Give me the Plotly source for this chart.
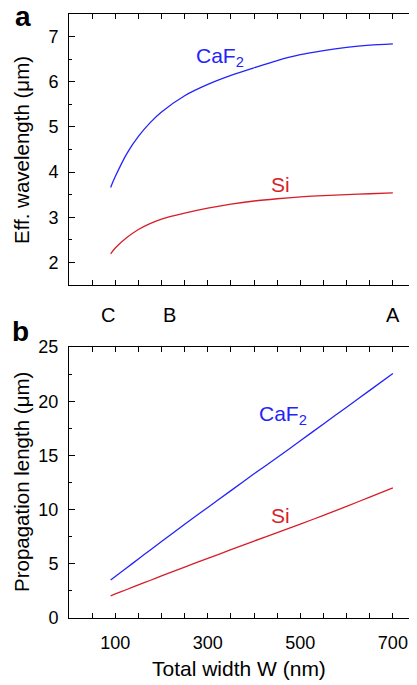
import plotly.graph_objects as go

# ---------------- data ----------------
width_nm = [90, 100, 125, 150, 175, 200, 250, 300, 350, 400, 450, 500, 550, 600, 650, 700]
caf2_eff_wl = [3.66, 3.90, 4.41, 4.79, 5.09, 5.33, 5.69, 5.94, 6.14, 6.31, 6.47, 6.60, 6.69, 6.76, 6.81, 6.84]
si_eff_wl = [2.19, 2.32, 2.55, 2.73, 2.86, 2.96, 3.09, 3.20, 3.29, 3.36, 3.41, 3.45, 3.48, 3.50, 3.52, 3.54]
caf2_prop = [3.5, 3.82, 4.63, 5.45, 6.25, 7.05, 8.65, 10.2, 11.75, 13.3, 14.8, 16.35, 17.9, 19.45, 21.0, 22.55]
si_prop = [2.05, 2.22, 2.63, 3.05, 3.46, 3.88, 4.7, 5.5, 6.3, 7.1, 7.88, 8.66, 9.47, 10.3, 11.15, 12.0]

point_labels = ["C", "B", "A"]
point_widths = [85, 218, 700]

BLUE = "rgb(35,35,250)"
RED = "rgb(215,30,40)"
FONT = "Liberation Sans, Arial, Helvetica, sans-serif"

# the page body adds an 8px offset; size the figure so the visible window matches
OFF = 8
W, H = 417 - OFF, 685 - OFF
ML, MR, MT, MB = 69 - OFF, 1, 14 - OFF, 67
PW = W - ML - MR
PH = H - MT - MB


def px_x(px):
    # px: pixel position in the 417x685 window
    return (px - OFF - ML) / PW


def px_y(py):
    return (H - MB - (py - OFF)) / PH


fig = go.Figure()
fig.add_trace(go.Scatter(x=width_nm, y=caf2_eff_wl, mode="lines",
                         line=dict(color=BLUE, width=1.3, shape="spline", smoothing=0.8),
                         xaxis="x", yaxis="y", showlegend=False))
fig.add_trace(go.Scatter(x=width_nm, y=si_eff_wl, mode="lines",
                         line=dict(color=RED, width=1.3, shape="spline", smoothing=0.8),
                         xaxis="x", yaxis="y", showlegend=False))
fig.add_trace(go.Scatter(x=width_nm, y=caf2_prop, mode="lines",
                         line=dict(color=BLUE, width=1.3, shape="spline", smoothing=0.6),
                         xaxis="x2", yaxis="y2", showlegend=False))
fig.add_trace(go.Scatter(x=width_nm, y=si_prop, mode="lines",
                         line=dict(color=RED, width=1.3, shape="spline", smoothing=0.6),
                         xaxis="x2", yaxis="y2", showlegend=False))

top_dom = [px_y(285), 1.0]
bot_dom = [0.0, px_y(347)]

common_x = dict(range=[0, 750], showline=True, linecolor="black", linewidth=1, mirror="allticks",
                ticks="inside", ticklen=5, tickcolor="black", tick0=100, dtick=200,
                minor=dict(ticks="inside", ticklen=5, dtick=50, tickcolor="black"),
                showgrid=False, zeroline=False, automargin=False,
                tickfont=dict(size=18, color="black", family=FONT))
common_y = dict(showline=True, linecolor="black", linewidth=1, mirror="allticks",
                ticks="inside", ticklen=6, tickcolor="black", automargin=False,
                showgrid=False, zeroline=False, tickfont=dict(size=18, color="black", family=FONT),
                ticklabelstandoff=6)

fig.update_layout(
    width=W, height=H,
    margin=dict(l=ML, r=MR, t=MT, b=MB, autoexpand=False),
    paper_bgcolor="white", plot_bgcolor="white",
    font=dict(family=FONT, color="black"),
    xaxis=dict(common_x, anchor="y", domain=[0, 1], showticklabels=False),
    yaxis=dict(common_y, domain=top_dom, anchor="x", range=[1.5, 7.5], dtick=1, tick0=0,
               minor=dict(ticks="inside", ticklen=3, dtick=0.5, tickcolor="black")),
    xaxis2=dict(common_x, anchor="y2", domain=[0, 1], showticklabels=True, ticklabelstandoff=8),
    yaxis2=dict(common_y, domain=bot_dom, anchor="x2", range=[0, 25], dtick=5, tick0=0,
                minor=dict(ticks="inside", ticklen=3, dtick=2.5, tickcolor="black")),
)

ann = []
# panel letters
ann.append(dict(text="<b>a</b>", x=px_x(23), y=px_y(16), xref="paper", yref="paper", showarrow=False,
                font=dict(size=28, family=FONT, color="black"), xanchor="center", yanchor="middle"))
ann.append(dict(text="<b>b</b>", x=px_x(21), y=px_y(331), xref="paper", yref="paper", showarrow=False,
                font=dict(size=28, family=FONT, color="black"), xanchor="center", yanchor="middle"))
# axis titles
ann.append(dict(text="Eff. wavelength (μm)", x=px_x(21), y=px_y(150), xref="paper", yref="paper",
                showarrow=False, textangle=-90, font=dict(size=20.5, family=FONT, color="black"),
                xanchor="center", yanchor="middle"))
ann.append(dict(text="Propagation length (μm)", x=px_x(21), y=px_y(482), xref="paper", yref="paper",
                showarrow=False, textangle=-90, font=dict(size=20.5, family=FONT, color="black"),
                xanchor="center", yanchor="middle"))
ann.append(dict(text="Total width W (nm)", x=px_x(239), y=px_y(668), xref="paper", yref="paper",
                showarrow=False, font=dict(size=21, family=FONT, color="black"),
                xanchor="center", yanchor="middle"))
# C B A markers
for lab, wv in zip(point_labels, point_widths):
    ann.append(dict(text=lab, x=wv, y=px_y(315), xref="x", yref="paper", showarrow=False,
                    font=dict(size=20, family=FONT, color="black"), xanchor="center", yanchor="middle"))
# series labels
ann.append(dict(text="CaF<sub>2</sub>", x=px_x(194), y=px_y(42), xref="paper", yref="paper", showarrow=False,
                font=dict(size=21, family=FONT, color=BLUE), xanchor="left", yanchor="top"))
ann.append(dict(text="Si", x=px_x(280), y=px_y(185), xref="paper", yref="paper", showarrow=False,
                font=dict(size=21, family=FONT, color=RED), xanchor="center", yanchor="middle"))
ann.append(dict(text="CaF<sub>2</sub>", x=px_x(257), y=px_y(400), xref="paper", yref="paper", showarrow=False,
                font=dict(size=21, family=FONT, color=BLUE), xanchor="left", yanchor="top"))
ann.append(dict(text="Si", x=px_x(280), y=px_y(515), xref="paper", yref="paper", showarrow=False,
                font=dict(size=21, family=FONT, color=RED), xanchor="center", yanchor="middle"))
fig.update_layout(annotations=ann)

fig.write_html("out.html")
